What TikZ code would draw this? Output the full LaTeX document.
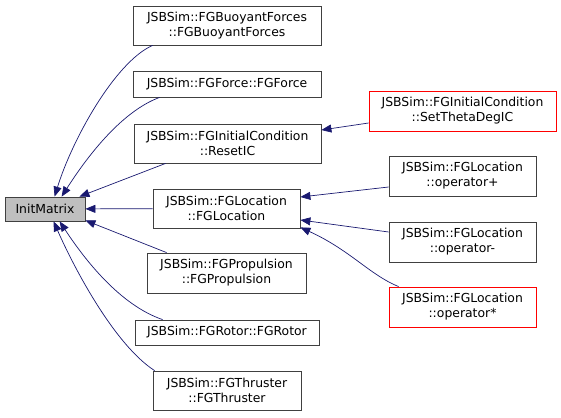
\documentclass[tikz,border=0pt]{standalone}
\usepackage{fontspec}
\setmainfont{DejaVu Sans}
\usetikzlibrary{arrows.meta,positioning}
\definecolor{edgeblue}{RGB}{25,25,112}
\definecolor{rootgray}{RGB}{191,191,191}
\definecolor{refred}{RGB}{255,0,0}
\begin{document}
\begin{tikzpicture}[x=1pt,y=-1pt,>={Triangle[length=10pt,width=8pt]},
  box/.style={draw=black!75,fill=white,line width=0.8pt,inner sep=0pt,align=center,font=\fontsize{12.4}{15}\selectfont},
  edge/.style={->,draw=edgeblue,line width=0.7pt}]
\useasboundingbox (0,0) rectangle (561,417);
\node[box,fill=rootgray,minimum width=80pt,minimum height=24pt] (init) at (45,209) {InitMatrix};
\node[box,minimum width=188pt,minimum height=39pt] (buoy) at (227,25.5) {JSBSim::FGBuoyantForces\\::FGBuoyantForces};
\node[box,minimum width=188pt,minimum height=26pt] (force) at (227,84) {JSBSim::FGForce::FGForce};
\node[box,minimum width=187pt,minimum height=39pt] (reset) at (227.5,143.5) {JSBSim::FGInitialCondition\\::ResetIC};
\node[box,minimum width=147pt,minimum height=39pt] (loc) at (226.5,208.5) {JSBSim::FGLocation\\::FGLocation};
\node[box,minimum width=159pt,minimum height=40pt] (prop) at (226.5,273) {JSBSim::FGPropulsion\\::FGPropulsion};
\node[box,minimum width=184pt,minimum height=25pt] (rotor) at (227,332.5) {JSBSim::FGRotor::FGRotor};
\node[box,minimum width=148pt,minimum height=39pt] (thrust) at (227,390.5) {JSBSim::FGThruster\\::FGThruster};
\node[box,draw=refred,minimum width=187pt,minimum height=40pt] (theta) at (462.5,111) {JSBSim::FGInitialCondition\\::SetThetaDegIC};
\node[box,minimum width=147pt,minimum height=40pt] (plus) at (462.5,176) {JSBSim::FGLocation\\::operator+};
\node[box,minimum width=147pt,minimum height=40pt] (minus) at (462.5,242) {JSBSim::FGLocation\\::operator-};
\node[box,draw=refred,minimum width=147pt,minimum height=40pt] (times) at (462.5,307) {JSBSim::FGLocation\\::operator*};
% callers of InitMatrix
\draw[edge] ([xshift=20pt]buoy.south west) .. controls (115,62) and (72,140) .. ([xshift=50pt]init.north west);
\draw[edge] ([xshift=27pt]force.south west) .. controls (120,112) and (85,160) .. ([xshift=57pt]init.north west);
\draw[edge] ([xshift=32pt]reset.south west) -- ([xshift=-6pt]init.north east);
\draw[edge] (loc) -- (init);
\draw[edge] ([xshift=20pt]prop.north west) -- ([yshift=1pt]init.south east);
\draw[edge] ([xshift=28pt]rotor.north west) .. controls (120,305) and (85,260) .. ([xshift=55pt]init.south west);
\draw[edge] ([xshift=2pt]thrust.north west) .. controls (115,345) and (75,270) .. ([xshift=49pt]init.south west);
% second level
\draw[edge] ([yshift=-12pt]theta.west) -- ([yshift=13.5pt]reset.east);
\draw[edge] ([yshift=-11pt]plus.west) -- ([yshift=11.5pt]loc.east);
\draw[edge] ([yshift=10pt]minus.west) -- ([yshift=-11.5pt]loc.east);
\draw[edge] ([xshift=10pt]times.north west) .. controls (370,275) and (350,250) .. ([yshift=1pt]loc.south east);
\end{tikzpicture}
\end{document}
